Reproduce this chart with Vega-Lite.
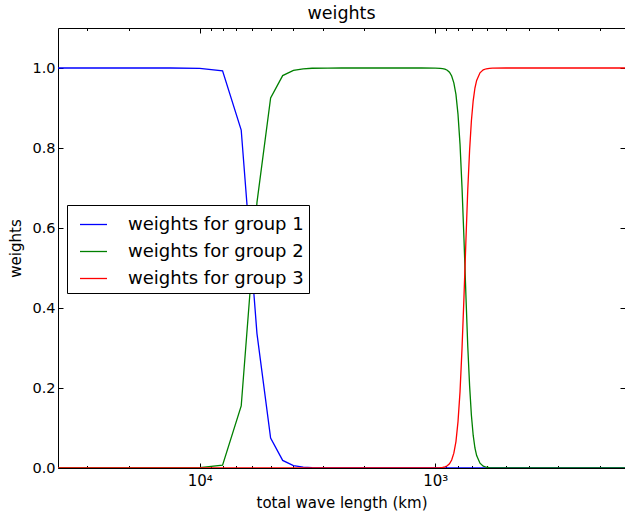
{
  "$schema": "https://vega.github.io/schema/vega-lite/v6.json",
  "width": 567,
  "height": 440,
  "autosize": {"type": "none"},
  "padding": {"left": 58, "top": 28, "right": 0, "bottom": 46},
  "title": {"text": "weights", "fontSize": 17.5, "font": "DejaVu Sans", "fontWeight": "normal", "color": "#000", "offset": 5},
  "config": {
    "font": "DejaVu Sans",
    "view": {"stroke": "#000", "strokeWidth": 1},
    "axis": {"domain": false, "grid": false, "tickColor": "#000", "tickWidth": 1, "labelColor": "#000", "titleColor": "#000", "labelFont": "DejaVu Sans", "titleFont": "DejaVu Sans", "titleFontWeight": "normal"}
  },
  "data": {"values": [
    {"wl": 40000, "g1": 1, "g2": 0, "g3": 0},
    {"wl": 20000, "g1": 1, "g2": 0, "g3": 0},
    {"wl": 13333.3, "g1": 1, "g2": 0, "g3": 0},
    {"wl": 10000, "g1": 0.999, "g2": 0.001, "g3": 0},
    {"wl": 8000, "g1": 0.993, "g2": 0.007, "g3": 0},
    {"wl": 6666.7, "g1": 0.845, "g2": 0.155, "g3": 0},
    {"wl": 5714.3, "g1": 0.336, "g2": 0.664, "g3": 0},
    {"wl": 5000, "g1": 0.075, "g2": 0.925, "g3": 0},
    {"wl": 4444.4, "g1": 0.019, "g2": 0.981, "g3": 0},
    {"wl": 4000, "g1": 0.006, "g2": 0.994, "g3": 0},
    {"wl": 3636.4, "g1": 0.002, "g2": 0.998, "g3": 0},
    {"wl": 3333.3, "g1": 0.0006, "g2": 0.9994, "g3": 0},
    {"wl": 2857.1, "g1": 0.0001, "g2": 0.9999, "g3": 0},
    {"wl": 2500, "g1": 0, "g2": 1, "g3": 0},
    {"wl": 2000, "g1": 0, "g2": 1, "g3": 0},
    {"wl": 1600, "g1": 0, "g2": 1, "g3": 0},
    {"wl": 1333.3, "g1": 0, "g2": 1, "g3": 0},
    {"wl": 1142.9, "g1": 0, "g2": 1, "g3": 0},
    {"wl": 1000, "g1": 0, "g2": 0.9998, "g3": 0.0002},
    {"wl": 952.4, "g1": 0, "g2": 0.9993, "g3": 0.0007},
    {"wl": 930.2, "g1": 0, "g2": 0.9986, "g3": 0.0014},
    {"wl": 909.1, "g1": 0, "g2": 0.9972, "g3": 0.0028},
    {"wl": 888.9, "g1": 0, "g2": 0.9945, "g3": 0.0055},
    {"wl": 869.6, "g1": 0, "g2": 0.9893, "g3": 0.0107},
    {"wl": 851.1, "g1": 0, "g2": 0.98, "g3": 0.02},
    {"wl": 833.3, "g1": 0, "g2": 0.963, "g3": 0.037},
    {"wl": 816.3, "g1": 0, "g2": 0.934, "g3": 0.066},
    {"wl": 800, "g1": 0, "g2": 0.884, "g3": 0.116},
    {"wl": 784.3, "g1": 0, "g2": 0.809, "g3": 0.191},
    {"wl": 769.2, "g1": 0, "g2": 0.701, "g3": 0.299},
    {"wl": 754.7, "g1": 0, "g2": 0.573, "g3": 0.427},
    {"wl": 740.7, "g1": 0, "g2": 0.434, "g3": 0.566},
    {"wl": 727.3, "g1": 0, "g2": 0.305, "g3": 0.695},
    {"wl": 714.3, "g1": 0, "g2": 0.206, "g3": 0.794},
    {"wl": 701.8, "g1": 0, "g2": 0.132, "g3": 0.868},
    {"wl": 689.7, "g1": 0, "g2": 0.082, "g3": 0.918},
    {"wl": 678.0, "g1": 0, "g2": 0.05, "g3": 0.95},
    {"wl": 666.7, "g1": 0, "g2": 0.031, "g3": 0.969},
    {"wl": 645.2, "g1": 0, "g2": 0.012, "g3": 0.988},
    {"wl": 625, "g1": 0, "g2": 0.0047, "g3": 0.9953},
    {"wl": 606.1, "g1": 0, "g2": 0.0019, "g3": 0.9981},
    {"wl": 588.2, "g1": 0, "g2": 0.0007, "g3": 0.9993},
    {"wl": 571.4, "g1": 0, "g2": 0.0003, "g3": 0.9997},
    {"wl": 500, "g1": 0, "g2": 0, "g3": 1},
    {"wl": 400, "g1": 0, "g2": 0, "g3": 1},
    {"wl": 312.5, "g1": 0, "g2": 0, "g3": 1},
    {"wl": 250, "g1": 0, "g2": 0, "g3": 1},
    {"wl": 200, "g1": 0, "g2": 0, "g3": 1},
    {"wl": 156.25, "g1": 0, "g2": 0, "g3": 1}
  ]},
  "transform": [{"fold": ["g1", "g2", "g3"], "as": ["group", "w"]}],
  "resolve": {"axis": {"x": "independent", "y": "independent"}},
  "layer": [
    {
      "mark": {"type": "line", "strokeWidth": 1.3, "clip": true},
      "encoding": {
        "x": {"field": "wl", "type": "quantitative",
          "scale": {"type": "log", "domain": [156.25, 40000], "reverse": true, "nice": false},
          "axis": {"orient": "bottom", "values": [10000, 1000], "labelExpr": "datum.value == 10000 ? '10⁴' : '10³'", "tickSize": -5, "labelPadding": 10, "labelFontSize": 15, "title": "total wave length (km)", "titleFontSize": 15, "titlePadding": 7}},
        "y": {"field": "w", "type": "quantitative",
          "scale": {"domain": [0, 1.1], "nice": false, "zero": false},
          "axis": {"orient": "left", "values": [0, 0.2, 0.4, 0.6, 0.8, 1.0], "format": ".1f", "tickSize": -5, "labelPadding": 8, "labelFontSize": 14.5, "title": "weights", "titleFontSize": 15, "titlePadding": 8}},
        "color": {"field": "group", "type": "nominal",
          "scale": {"domain": ["g1", "g2", "g3"], "range": ["#0000ff", "#008000", "#ff0000"]},
          "legend": {"orient": "none", "legendX": 9, "legendY": 177, "title": null, "labelExpr": "'weights for group ' + slice(datum.label, 1)", "labelFontSize": 18, "labelLimit": 0, "labelFont": "DejaVu Sans", "labelColor": "#000", "symbolType": "stroke", "symbolSize": 729, "symbolStrokeWidth": 1.3, "symbolOffset": 7, "labelOffset": 20, "padding": 5, "rowPadding": 3, "strokeColor": "#000", "fillColor": "#fff", "cornerRadius": 0}}
      }
    },
    {
      "mark": {"type": "line", "opacity": 0},
      "encoding": {
        "x": {"field": "wl", "type": "quantitative", "axis": {"orient": "bottom", "values": [30000, 20000, 9000, 8000, 7000, 6000, 5000, 4000, 3000, 2000, 900, 800, 700, 600, 500, 400, 300, 200], "labels": false, "tickSize": -2.5, "title": null}},
        "y": {"field": "w", "type": "quantitative", "axis": {"orient": "right", "values": [0, 0.2, 0.4, 0.6, 0.8, 1.0], "labels": false, "tickSize": -5, "title": null}}
      }
    },
    {
      "mark": {"type": "line", "opacity": 0},
      "encoding": {
        "x": {"field": "wl", "type": "quantitative", "axis": {"orient": "top", "values": [10000, 1000], "labels": false, "tickSize": -5, "title": null}},
        "y": {"field": "w", "type": "quantitative", "axis": null}
      }
    },
    {
      "mark": {"type": "line", "opacity": 0},
      "encoding": {
        "x": {"field": "wl", "type": "quantitative", "axis": {"orient": "top", "values": [30000, 20000, 9000, 8000, 7000, 6000, 5000, 4000, 3000, 2000, 900, 800, 700, 600, 500, 400, 300, 200], "labels": false, "tickSize": -2.5, "title": null}},
        "y": {"field": "w", "type": "quantitative", "axis": null}
      }
    }
  ]
}
